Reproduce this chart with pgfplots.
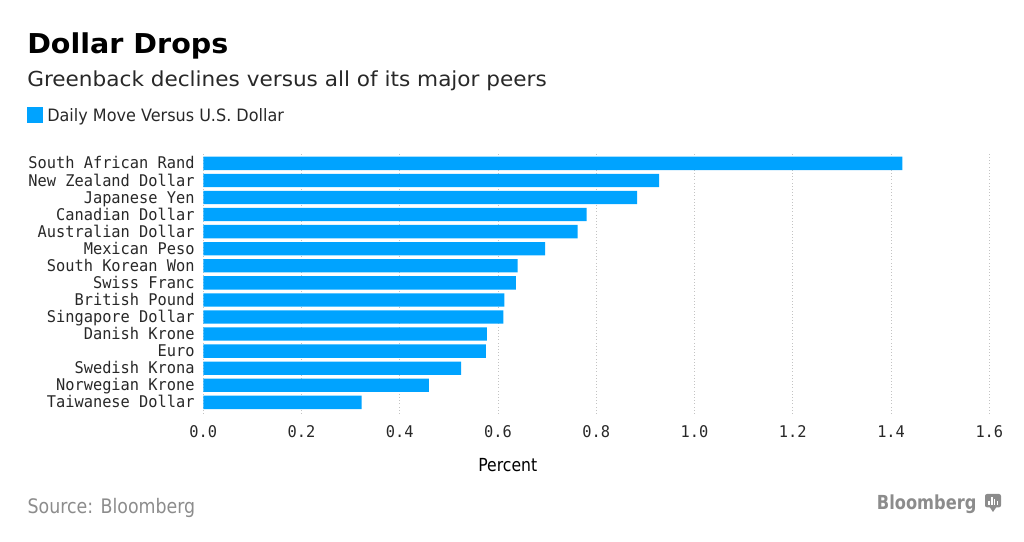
\documentclass[border=0pt]{standalone}
\usepackage{pgfplots}
\usepackage{pgfplotstable}
\pgfplotsset{compat=1.18}
\usepackage{fontspec}
\setmainfont{DejaVu Sans}
\newfontfamily\monofont[FakeStretch=0.95]{DejaVu Sans Mono}
\newfontfamily\widefont[FakeStretch=1.045]{DejaVu Sans}
\newfontfamily\condfont[FakeStretch=0.87]{DejaVu Sans}
\newfontfamily\legfont[FakeStretch=0.94]{DejaVu Sans}
\newfontfamily\logofont[FakeStretch=0.84]{DejaVu Sans}
\definecolor{barblue}{RGB}{0,163,255}
\definecolor{txt}{RGB}{40,40,40}
\definecolor{srcgray}{RGB}{140,140,140}
\definecolor{gridgray}{RGB}{195,195,195}

\pgfplotstableread{
idx val
0 0.322
1 0.459
2 0.525
3 0.575
4 0.577
5 0.611
6 0.613
7 0.636
8 0.640
9 0.696
10 0.762
11 0.780
12 0.883
13 0.928
14 1.423
}\datatable

\begin{document}
\begin{tikzpicture}
\useasboundingbox (0,0) rectangle (768pt,406.5pt);
\begin{axis}[
  at={(152.5pt,96.4pt)}, anchor=south west,
  scale only axis, width=589.5pt, height=195.9pt,
  xmin=0, xmax=1.6, ymin=-0.65, ymax=14.65,
  xbar, bar width=0.78,
  axis line style={draw=none},
  tick style={draw=none},
  major tick length=0pt,
  xmajorgrids, grid style={gridgray, dotted, line width=0.6pt},
  xtick={0,0.2,0.4,0.6,0.8,1.0,1.2,1.4,1.6},
  xticklabels={0.0,0.2,0.4,0.6,0.8,1.0,1.2,1.4,1.6},
  ytick={0,...,14},
  yticklabels={Taiwanese Dollar,Norwegian Krone,Swedish Krona,Euro,Danish Krone,Singapore Dollar,British Pound,Swiss Franc,South Korean Won,Mexican Peso,Australian Dollar,Canadian Dollar,Japanese Yen,New Zealand Dollar,South African Rand},
  xticklabel style={font=\monofont\fontsize{12.1pt}{14pt}\selectfont, text=txt, anchor=north, inner sep=0pt, yshift=-9.0pt},
  yticklabel style={font=\monofont\fontsize{12.1pt}{14pt}\selectfont, text=txt, anchor=base east, inner sep=0pt, xshift=-6.4pt, yshift=-4.2pt},
  clip=false,
]
\addplot[fill=barblue, draw=none] table[x=val, y=idx] {\datatable};
\end{axis}

\node[anchor=base west, inner sep=0pt, font=\widefont\bfseries\fontsize{20.5pt}{24pt}\selectfont] at (20.25pt,366pt) {Dollar Drops};
\node[anchor=base west, inner sep=0pt, text=txt, font=\widefont\fontsize{15.5pt}{18pt}\selectfont] at (20.25pt,341.5pt) {Greenback declines versus all of its major peers};
\fill[barblue] (20pt,314.5pt) rectangle (32.5pt,326.5pt);
\node[anchor=base west, inner sep=0pt, text=txt, font=\legfont\fontsize{12.8pt}{15pt}\selectfont] at (35.25pt,315.2pt) {Daily Move Versus U.S. Dollar};
\node[anchor=base, inner sep=0pt, text=black, font=\condfont\fontsize{13.5pt}{16pt}\selectfont] at (380.85pt,52.7pt) {Percent};
\node[anchor=base west, inner sep=0pt, text=srcgray, font=\condfont\fontsize{15pt}{18pt}\selectfont] at (20.5pt,21.5pt) {Source: Bloomberg};
\node[anchor=base east, inner sep=0pt, text=srcgray, font=\logofont\bfseries\fontsize{14.5pt}{18pt}\selectfont] at (732.5pt,24pt) {Bloomberg};
\fill[srcgray, rounded corners=1.5pt] (738.75pt,26pt) rectangle (750.75pt,36pt);
\fill[srcgray] (742pt,26.5pt) -- (744.75pt,22.5pt) -- (747.5pt,26.5pt) -- cycle;
\fill[white] (741pt,28pt) rectangle (742.2pt,31pt);
\fill[white] (743.2pt,28pt) rectangle (744.4pt,34pt);
\fill[white] (745.4pt,28pt) rectangle (746.6pt,32.5pt);
\fill[white] (747.6pt,28pt) rectangle (748.8pt,30.5pt);
\end{tikzpicture}
\end{document}
